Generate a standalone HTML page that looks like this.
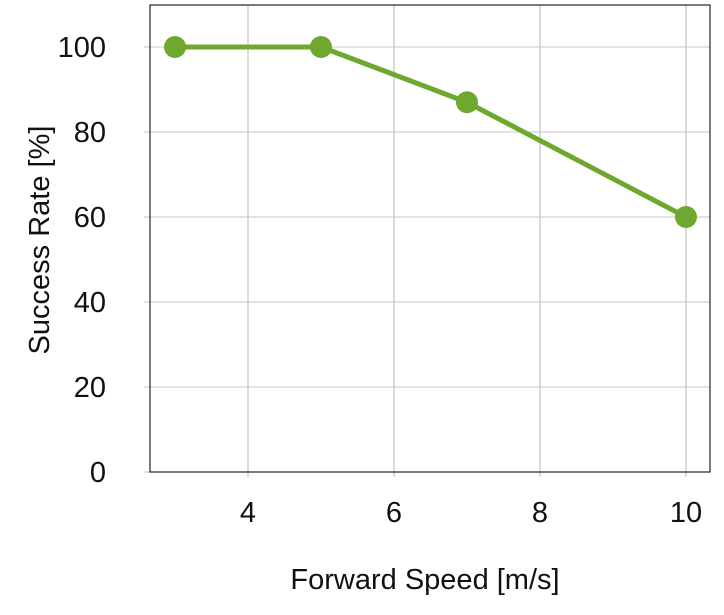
<!DOCTYPE html>
<html><head><meta charset="utf-8"><style>
body{margin:0;background:#fff;}
svg{display:block;font-family:"Liberation Sans","DejaVu Sans",sans-serif;}
</style></head><body>
<svg id="chart" width="724" height="615"></svg>
<script>
const xValues = [3, 5, 7, 10];
const successRates = [100, 100, 87, 60];
const xTicks = [4, 6, 8, 10];
const yTicks = [0, 20, 40, 60, 80, 100];
const L = 150, R = 710, T = 5, B = 472;
const sx = v => 248 + (v - 4) * 73;
const sy = v => 472 - v * 4.25;
const NS = 'http://www.w3.org/2000/svg';
const svg = document.getElementById('chart');
function mk(tag, attrs, text) {
  const e = document.createElementNS(NS, tag);
  for (const k in attrs) e.setAttribute(k, attrs[k]);
  if (text !== undefined) e.textContent = text;
  svg.appendChild(e);
  return e;
}
let e;
e = mk('rect', {x: L, y: T, width: R - L, height: B - T, fill: '#fff', stroke: 'none'});


xTicks.forEach(t => {
  const g = mk('line', {x1: sx(t), x2: sx(t), y1: T, y2: B + 5, stroke: '#b4b4b4', 'stroke-width': 1});
  
  
  const lb = mk('text', {x: sx(t), y: 522, 'text-anchor': 'middle', 'font-size': 29, fill: '#111'}, t);
  
  
});
yTicks.forEach(t => {
  const g = mk('line', {x1: L - 6, x2: R, y1: sy(t), y2: sy(t), stroke: '#c4c4c4', 'stroke-width': 1});
  
  
  const lb = mk('text', {x: 106, y: sy(t) + 10, 'text-anchor': 'end', 'font-size': 29, fill: '#111'}, t);
  
  
});
e = mk('rect', {x: L, y: T, width: R - L, height: B - T, fill: 'none', stroke: '#222', 'stroke-width': 1.2});


const pts = xValues.map((x, i) => sx(x) + ',' + sy(successRates[i])).join(' ');
e = mk('polyline', {points: pts, fill: 'none', stroke: '#6fa82e', 'stroke-width': 5});


xValues.forEach((x, i) => {
  const c = mk('circle', {cx: sx(x), cy: sy(successRates[i]), r: 11, fill: '#6fa82e'});
  
  
});
e = mk('text', {x: 425, y: 589, 'text-anchor': 'middle', 'font-size': 29, fill: '#111'}, 'Forward Speed [m/s]');


e = mk('text', {x: 0, y: 0, 'text-anchor': 'middle', 'font-size': 29, fill: '#111', transform: 'translate(49,240) rotate(-90)'}, 'Success Rate [%]');


</script>
</body></html>
